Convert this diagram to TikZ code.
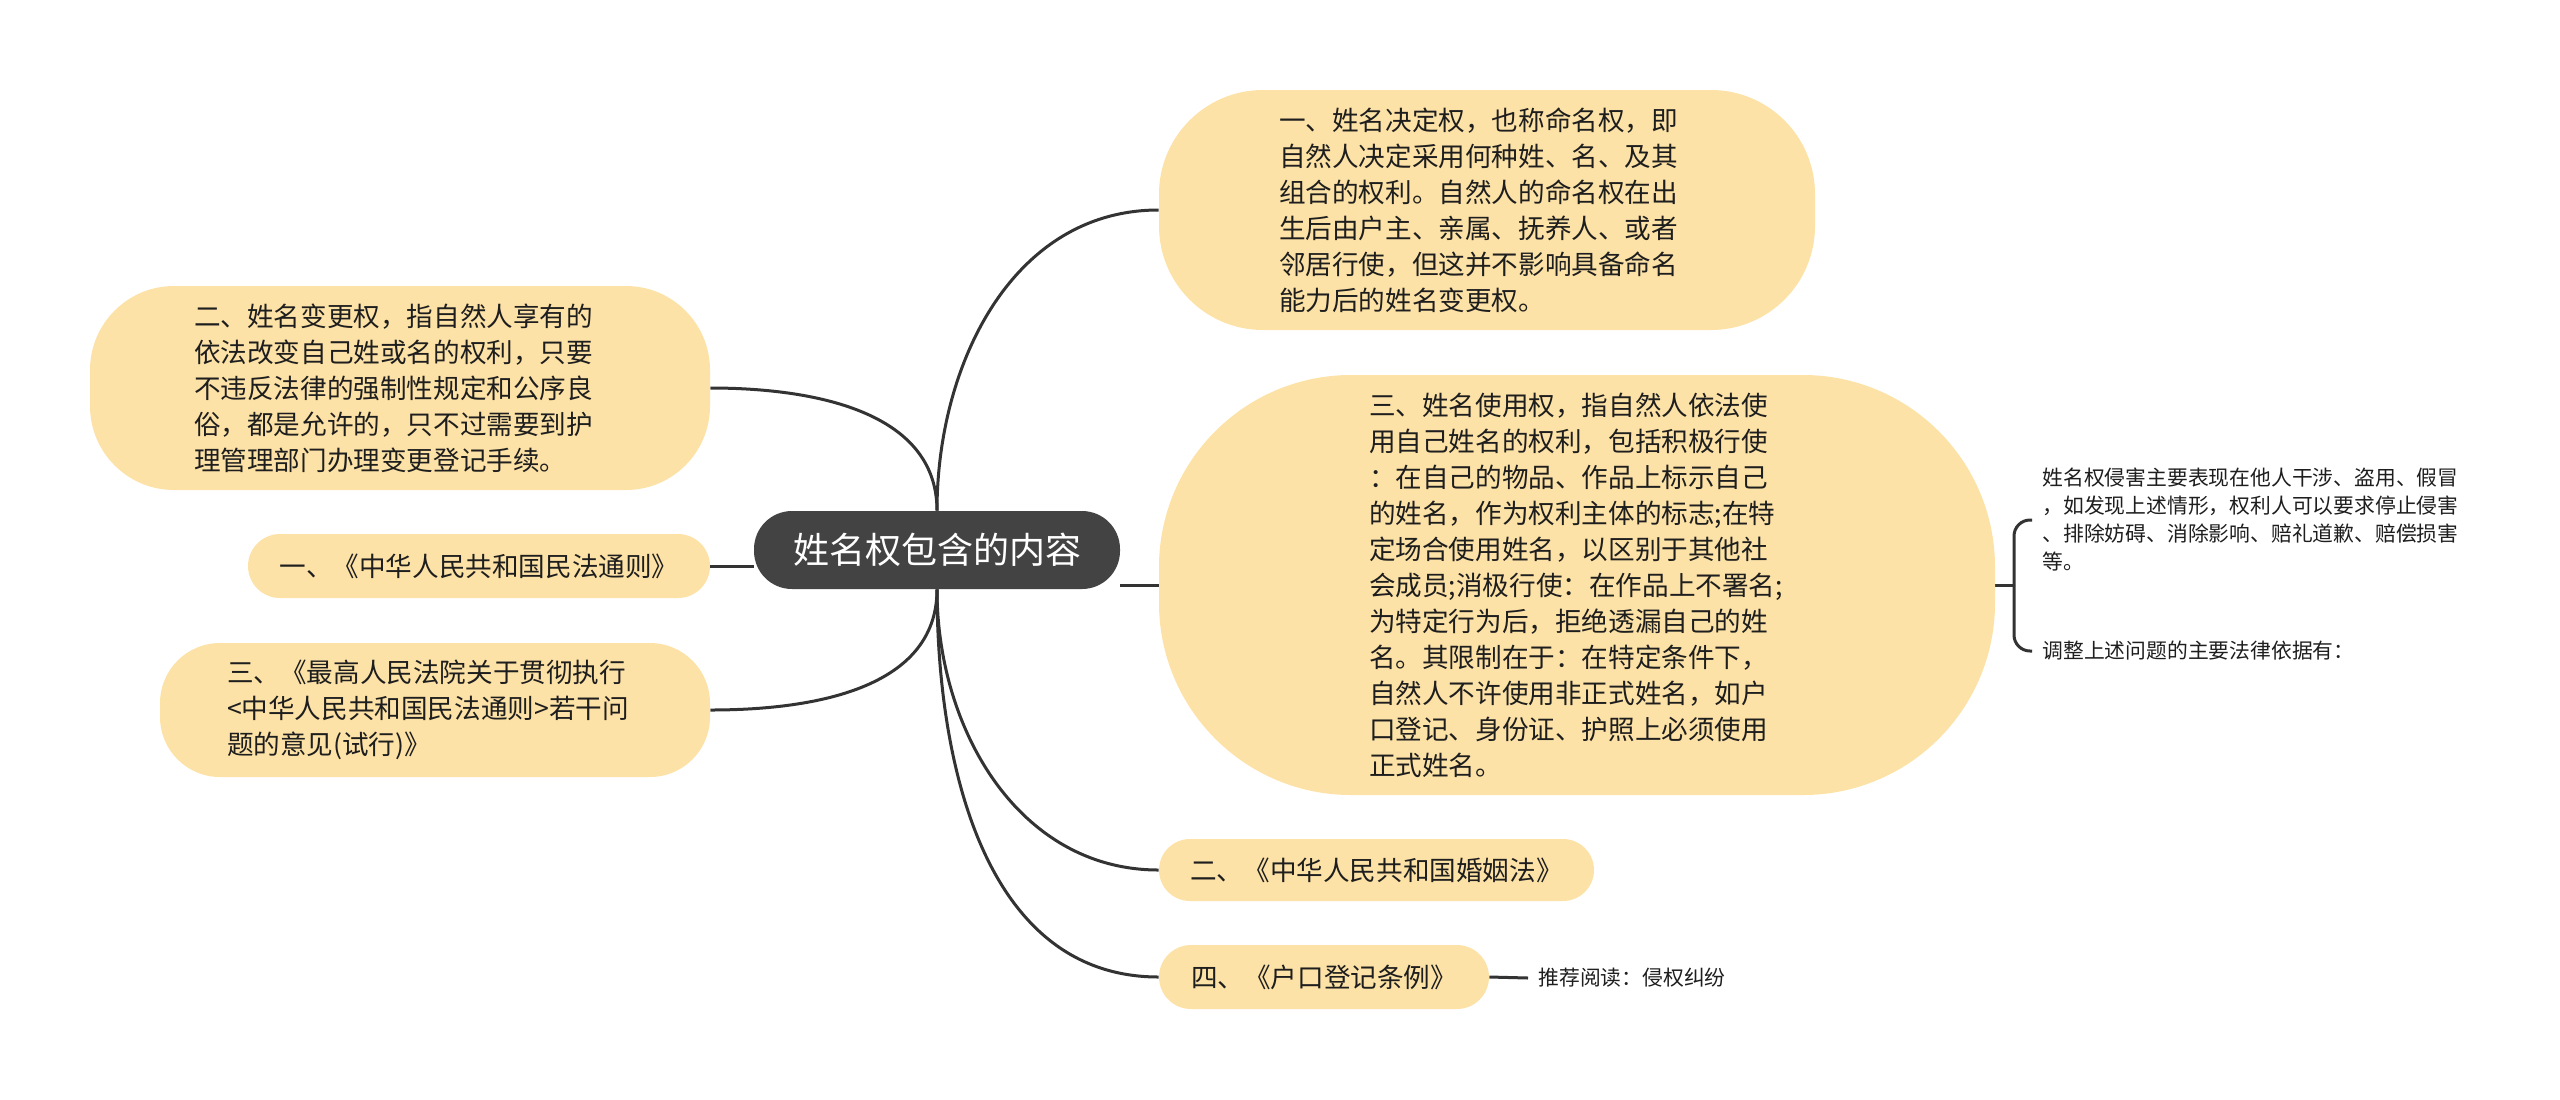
\documentclass[tikz,border=0pt]{standalone}
\usepackage{fontspec}
\setmainfont{Noto Sans CJK SC}
\usetikzlibrary{backgrounds}
\definecolor{boxfill}{HTML}{FDE2A7}
\definecolor{rootfill}{HTML}{434343}
\definecolor{linec}{HTML}{333333}
\definecolor{txt}{HTML}{1E1E1E}
\begin{document}
\begin{tikzpicture}[x=0.5pt,y=-0.5pt,
  leaf/.style={fill=boxfill, text=txt, inner sep=0pt, align=left,
    font=\fontsize{13.3pt}{18pt}\selectfont},
  rootbox/.style={fill=rootfill, text=white, inner sep=0pt,
    font=\fontsize{18pt}{22pt}\selectfont, minimum width=183pt,
    minimum height=39pt, rounded corners=19pt},
  smalltext/.style={text=txt, inner sep=0pt, align=left, anchor=west,
    font=\fontsize{10.4pt}{14pt}\selectfont},
  conn/.style={draw=linec, line width=1.5pt}
]
\useasboundingbox (0,0) rectangle (2560,1099);

% root
\node[rootbox] (c) at (937,550) {姓名权包含的内容};

% right side
\node[leaf, minimum width=328pt, minimum height=120pt, rounded corners=52pt, text width=208pt] (r1) at (1487,210)
{一、姓名决定权，也称命名权，即\\自然人决定采用何种姓、名、及其\\组合的权利。自然人的命名权在出\\生后由户主、亲属、抚养人、或者\\邻居行使，但这并不影响具备命名\\能力后的姓名变更权。};

\node[leaf, minimum width=418pt, minimum height=210pt, rounded corners=96pt, text width=208pt] (r2) at (1577,585)
{三、姓名使用权，指自然人依法使\\用自己姓名的权利，包括积极行使\\：在自己的物品、作品上标示自己\\的姓名，作为权利主体的标志;在特\\定场合使用姓名，以区别于其他社\\会成员;消极行使：在作品上不署名;\\为特定行为后，拒绝透漏自己的姓\\名。其限制在于：在特定条件下，\\自然人不许使用非正式姓名，如户\\口登记、身份证、护照上必须使用\\正式姓名。};

\node[leaf, minimum width=217.5pt, minimum height=31pt, rounded corners=15.5pt] (r3) at (1376.5,870)
{二、《中华人民共和国婚姻法》};

\node[leaf, minimum width=165pt, minimum height=32pt, rounded corners=16pt] (r4) at (1324,977)
{四、《户口登记条例》};

% left side
\node[leaf, minimum width=310pt, minimum height=102pt, rounded corners=42pt, text width=206pt] (l1) at (400,388)
{二、姓名变更权，指自然人享有的\\依法改变自己姓或名的权利，只要\\不违反法律的强制性规定和公序良\\俗，都是允许的，只不过需要到护\\理管理部门办理变更登记手续。};

\node[leaf, minimum width=231pt, minimum height=32pt, rounded corners=16pt] (l2) at (479,566)
{一、《中华人民共和国民法通则》};

\node[leaf, minimum width=275pt, minimum height=67pt, rounded corners=30pt, text width=208pt] (l3) at (435,710)
{三、《最高人民法院关于贯彻执行\\<中华人民共和国民法通则>若干问\\题的意见(试行)》};

% small texts
\node[smalltext] (s1) at (2042,520)
{姓名权侵害主要表现在他人干涉、盗用、假冒\\，如发现上述情形，权利人可以要求停止侵害\\、排除妨碍、消除影响、赔礼道歉、赔偿损害\\等。};
\node[smalltext] (s2) at (2042,651) {调整上述问题的主要法律依据有：};
\node[smalltext] (s3) at (1538,978) {推荐阅读：侵权纠纷};

\coordinate (bj) at (2014,585);

\begin{scope}[on background layer]
  \draw[conn] (c.north) to[out=90,in=180] (r1.west);
  \draw[conn] (c.north) to[out=90,in=0] (l1.east);
  \draw[conn] (c.south) to[out=-90,in=0] (l3.east);
  \draw[conn] (c.south) to[out=-90,in=180] (r3.west);
  \draw[conn] (c.south) to[out=-90,in=180] (r4.west);
  \draw[conn] (l2.east) -- (c.west |- l2.east);
  \draw[conn] (c.east |- r2.west) -- (r2.west);
  \draw[conn] (r2.east) -- (bj);
  \draw[conn, rounded corners=8pt] (bj) |- ([xshift=-5pt]s1.west);
  \draw[conn, rounded corners=8pt] (bj) |- ([xshift=-5pt]s2.west);
  \draw[conn] (r4.east) -- ([xshift=-5pt]s3.west);
\end{scope}
\end{tikzpicture}
\end{document}
